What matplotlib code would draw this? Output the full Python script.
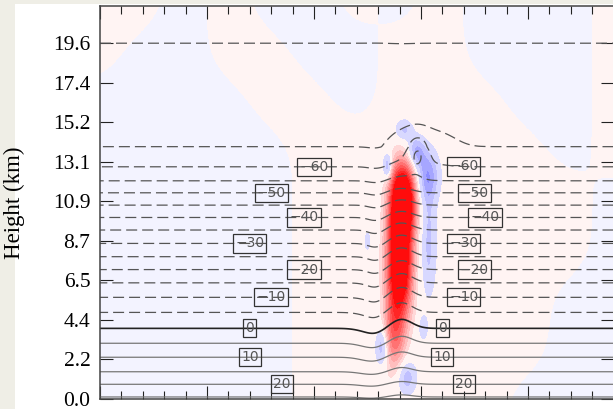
import numpy as np
import matplotlib
matplotlib.use('Agg')
import matplotlib.pyplot as plt
from matplotlib.colors import Normalize, ListedColormap, BoundaryNorm
from matplotlib.patches import Rectangle

# environment: height (km) of each isotherm, read at the left edge
profile_z = [0.0, 0.81, 1.50, 2.30, 3.07, 3.89, 4.77, 5.60, 6.40, 7.13, 7.84,
             8.57, 9.31, 10.00, 10.68, 11.36, 12.02, 12.79, 13.89, 16.5, 19.6, 21.8]
profile_T = [25.8, 20, 15, 10, 5, 0, -5, -10, -15, -20, -25,
             -30, -35, -40, -45, -50, -55, -60, -65, -68, -65, -63]

# vertical velocity features (x in grid units, z in km)
w_x   = [14.15, 14.0, 13.75, 14.2, 14.75, 15.3, 15.35, 13.2, 14.3, 15.1, 13.45, 12.5]
w_z   = [11.0,  7.5,  3.5,   14.8, 13.6,  12.3, 8.6,   2.9,  1.2,  3.9,  12.8,  8.7]
w_sx  = [0.40,  0.40, 0.35,  0.30, 0.30,  0.40, 0.28,  0.22, 0.35, 0.15, 0.15,  0.12]
w_sz  = [1.4,   2.0,  1.5,   0.45, 0.6,   1.0,  2.3,   0.8,  0.7,  0.5,  0.5,   0.5]
w_amp = [14.0,  14.0, 5.0,   -2.5, -3.5,  -3.6, -2.4,  -3.5, -3.0, -1.8, -4.0,  -1.5]

# temperature perturbations (degC)
t_x   = [14.1, 12.6, 12.9, 14.85, 15.2]
t_z   = [7.0,  3.0,  8.0,  13.6,  14.0]
t_sx  = [0.5,  0.5,  0.35, 0.35,  0.9]
t_sz  = [4.0,  2.0,  3.5,  0.7,   0.8]
t_amp = [3.5,  -1.2, -1.5, 7.0,   2.0]

# weak background sign (+ pink / - blue), rows bottom -> top
bg_x = np.linspace(0, 24, 13)
bg_z = np.linspace(0, 21.65, 9)
bg_sign = np.array([
    [-1, -1, -1, -1, -1,  1,  1,  1,  1,  1, -1, -1, -1],
    [-1, -1, -1, -1, -1,  1,  1,  1,  1,  1,  1, -1, -1],
    [-1, -1, -1, -1, -1,  1,  1,  1,  1,  1,  1, -1, -1],
    [-1, -1, -1, -1, -1,  1,  1,  1,  1,  1,  1,  1, -1],
    [-1, -1, -1, -1, -1,  1,  1,  1,  1,  1,  1,  1, -1],
    [-1, -1, -1, -1, -1,  1,  1,  1,  1,  1,  1, -1,  1],
    [-1, -1, -1, -1,  1,  1, -1,  1,  1,  1, -1, -1,  1],
    [ 1, -1, -1,  1,  1, -1, -1,  1,  1, -1, -1, -1,  1],
    [ 1,  1, -1,  1, -1, -1,  1, -1,  1, -1, -1, -1,  1],
]) * 0.5

# contour labels
label_levels = [-60, -50, -40, -30, -20, -10, 0, 10, 20]
lab_x = [10.0, 8.0, 9.53, 7.0, 9.53, 8.0, 7.0, 7.0, 8.5,
         17.0, 17.5, 18.0, 17.0, 17.5, 17.0, 16.0, 16.0, 17.0]
lab_z = [12.83, 11.34, 10.08, 8.59, 7.10, 5.62, 3.91, 2.31, 0.83,
         12.78, 11.34, 10.08, 8.59, 7.10, 5.62, 3.91, 2.31, 0.83]

ytick_labels = ['0.0', '2.2', '4.4', '6.5', '8.7', '10.9', '13.1', '15.2', '17.4', '19.6']


def blobs(X, Z, xs, zs, sxs, szs, amps):
    out = np.zeros_like(X)
    for x0, z0, sx, sz, a in zip(xs, zs, sxs, szs, amps):
        out += a * np.exp(-0.5 * ((X - x0) / sx) ** 2 - 0.5 * ((Z - z0) / sz) ** 2)
    return out


x = np.linspace(0, 24, 600)
z = np.linspace(0, 21.65, 500)
X, Z = np.meshgrid(x, z)
W = blobs(X, Z, w_x, w_z, w_sx, w_sz, w_amp)
T = np.interp(Z, profile_z, profile_T) + blobs(X, Z, t_x, t_z, t_sx, t_sz, t_amp)

fig = plt.figure(figsize=(6.13, 4.09), dpi=100, facecolor='#efeee6')
fig.patches.append(Rectangle((15 / 613, 0), 1, 1 - 4 / 409, transform=fig.transFigure,
                             facecolor='white', edgecolor='none', zorder=-10))
ax = fig.add_axes([100 / 613, 10 / 409, 513.5 / 613, 393 / 409])

dx = bg_x[1] - bg_x[0]
dz = bg_z[1] - bg_z[0]
ax.imshow(bg_sign, origin='lower', aspect='auto', interpolation='bicubic',
          interpolation_stage='data',
          extent=[bg_x[0] - dx / 2, bg_x[-1] + dx / 2, bg_z[0] - dz / 2, bg_z[-1] + dz / 2],
          cmap=ListedColormap(['#f3f3ff', '#fff4f3']), norm=BoundaryNorm([-1, 0, 1], 2))

norm = Normalize(-10, 10)
Wc = np.clip(W, -9.99, 9.99)
ax.contourf(X, Z, Wc, levels=np.arange(-10, 0), cmap='bwr', norm=norm)
ax.contourf(X, Z, Wc, levels=np.arange(1, 11), cmap='bwr', norm=norm)

levels = np.arange(-65, 30, 5)
colors = ['#222222' if v == 0 else ('#555555' if v < 0 else '#777777') for v in levels]
styles = [(0, (8.8, 4)) if v < 0 else 'solid' for v in levels]
widths = [1.2 if v == 0 else 0.9 for v in levels]
ax.contour(X, Z, T, levels=levels, colors=colors, linestyles=styles, linewidths=widths)

# invisible set used only to place the boxed labels
cs_lab = ax.contour(X, Z, T, levels=label_levels, colors='none', linewidths=0)
texts = ax.clabel(cs_lab, manual=list(zip(lab_x, lab_z)),
                  inline=False, fontsize=10, colors='#555555',
                  fmt=lambda v: f'{v:.0f}'.replace('-', '\u2212'))
for t in texts:
    t.set_rotation(0)
    t.set_bbox(dict(boxstyle='square,pad=0.15', fc='none', ec='#333333', lw=0.9))

ax.set_xlim(0, 24)
ax.set_ylim(0, 21.65)
ax.set_xticks(np.arange(0, 25, 5))
ax.set_xticks(np.arange(0, 25, 1), minor=True)
ystep = 19.6 / 9
ax.set_yticks(np.arange(10) * ystep)
ax.set_yticklabels(ytick_labels, fontfamily='Liberation Serif', fontsize=15.5)
ax.tick_params(which='both', direction='in', top=True, right=True, labelbottom=False,
               color='#222222', width=0.8)
ax.tick_params(which='major', length=9.2, pad=7)
ax.tick_params(which='minor', length=5.6)
ax.set_ylabel('Height (km)', fontfamily='Liberation Serif', fontsize=16.5)
ax.yaxis.set_label_coords(-0.147, 0.5)
for s in ax.spines.values():
    s.set_color('#444444')
    s.set_linewidth(1.1)

fig.savefig('out.png', dpi=100, facecolor=fig.get_facecolor())
